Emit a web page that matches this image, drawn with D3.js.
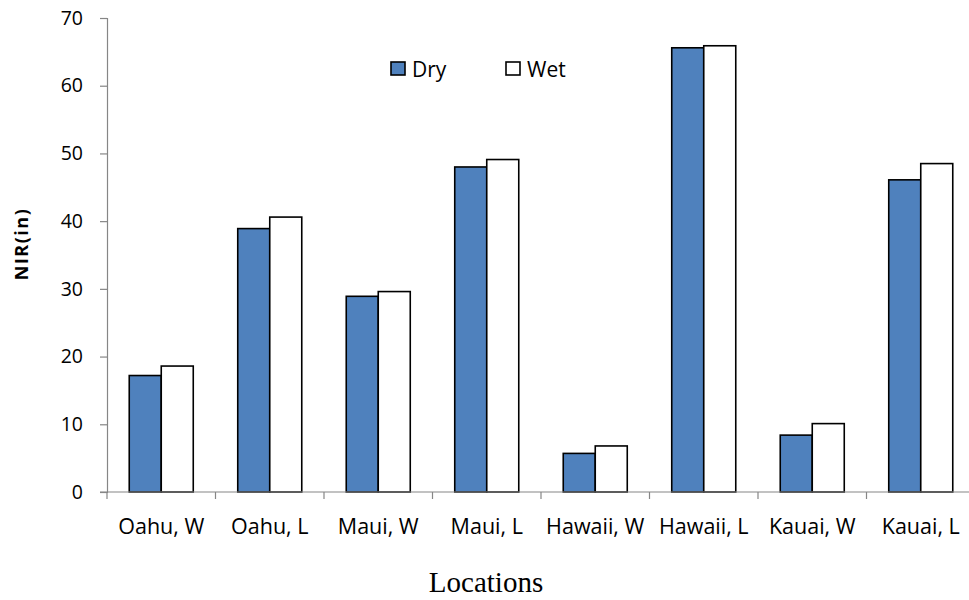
<!DOCTYPE html>
<html>
<head>
<meta charset="utf-8">
<script src="https://cdn.jsdelivr.net/npm/d3@7"></script>
<style>
  html, body { margin: 0; padding: 0; background: #fff; }
  svg { display: block; }
</style>
</head>
<body>
<svg id="chart" width="969" height="600"></svg>
<script>
const categories = ["Oahu, W", "Oahu, L", "Maui, W", "Maui, L", "Hawaii, W", "Hawaii, L", "Kauai, W", "Kauai, L"];
const seriesNames = ["Dry", "Wet"];
const dryValues = [17.2, 38.9, 28.9, 48.0, 5.7, 65.6, 8.4, 46.1];
const wetValues = [18.6, 40.6, 29.6, 49.1, 6.8, 65.9, 10.1, 48.5];
const yTicks = [0, 10, 20, 30, 40, 50, 60, 70];
const seriesColors = ["#4F81BD", "#FFFFFF"];

const svg = d3.select("#chart");
const plotLeft = 107, plotRight = 975, plotTop = 18, plotBottom = 492;

const x0 = d3.scaleBand().domain(categories).range([plotLeft, plotRight]).paddingInner(0.41).paddingOuter(0.205);
const x1 = d3.scaleBand().domain(seriesNames).range([0, x0.bandwidth()]);
const y = d3.scaleLinear().domain([0, 70]).range([plotBottom, plotTop]);
const color = d3.scaleOrdinal().domain(seriesNames).range(seriesColors);

const data = categories.map((c, i) => ({ cat: c, vals: [
  { s: "Dry", v: dryValues[i] }, { s: "Wet", v: wetValues[i] }
]}));

// bars
const groups = svg.append("g").selectAll("g").data(data).join("g")
  .attr("transform", d => `translate(${x0(d.cat)},0)`);
groups.selectAll("rect").data(d => d.vals).join("rect")
  .attr("x", d => x1(d.s))
  .attr("y", d => y(d.v))
  .attr("width", x1.bandwidth())
  .attr("height", d => y(0) - y(d.v))
  .attr("fill", d => color(d.s))
  .attr("stroke", "#000")
  .attr("stroke-width", 1.6);

// y axis
const yAxis = svg.append("g").attr("transform", `translate(${plotLeft},0)`)
  .call(d3.axisLeft(y).tickValues(yTicks).tickSize(7).tickPadding(17));
yAxis.select(".domain").attr("stroke", "#868686").attr("stroke-width", 1.2);
yAxis.selectAll(".tick line").attr("stroke", "#868686").attr("stroke-width", 1.2);
yAxis.selectAll(".tick text").attr("font-family", "'Open Sans', sans-serif").attr("font-size", 19.5).attr("fill", "#000");

// x axis
const xAxisG = svg.append("g").attr("transform", `translate(0,${plotBottom})`);
xAxisG.append("line").attr("x1", plotLeft - 7).attr("x2", 969).attr("y1", 0).attr("y2", 0)
  .attr("stroke", "#868686").attr("stroke-width", 1.2);
xAxisG.selectAll("line.tk").data(categories).join("line").attr("class", "tk")
  .attr("x1", c => x0(c) + x0.bandwidth() / 2 - x0.step() / 2)
  .attr("x2", c => x0(c) + x0.bandwidth() / 2 - x0.step() / 2)
  .attr("y1", 0).attr("y2", 7)
  .attr("stroke", "#868686").attr("stroke-width", 1.2);
xAxisG.selectAll("text").data(categories).join("text")
  .attr("x", c => x0(c) + x0.bandwidth() / 2)
  .attr("y", 42)
  .attr("text-anchor", "middle")
  .attr("font-family", "'Open Sans', sans-serif")
  .attr("font-size", 21.5)
  .attr("fill", "#000")
  .text(c => c);

// axis titles
svg.append("text")
  .attr("transform", "translate(28,244) rotate(-90)")
  .attr("text-anchor", "middle")
  .attr("font-family", "'Open Sans', sans-serif")
  .attr("font-weight", "bold")
  .attr("font-size", 18)
  .attr("letter-spacing", 1.5)
  .attr("fill", "#000")
  .text("NIR(in)");

svg.append("text")
  .attr("x", 486).attr("y", 592)
  .attr("text-anchor", "middle")
  .attr("font-family", "'Liberation Serif', 'Times New Roman', serif")
  .attr("font-size", 29)
  .attr("fill", "#000")
  .text("Locations");

// legend
const legendX = [391, 506];
const legend = svg.append("g").selectAll("g").data(seriesNames).join("g")
  .attr("transform", (d, i) => `translate(${legendX[i]},62)`);
legend.append("rect").attr("width", 14).attr("height", 13)
  .attr("fill", d => color(d)).attr("stroke", "#000").attr("stroke-width", 1.6);
legend.append("text").attr("x", 21).attr("y", 14.5)
  .attr("font-family", "'Open Sans', sans-serif")
  .attr("font-size", 21)
  .attr("fill", "#000")
  .text(d => d);
</script>
</body>
</html>
